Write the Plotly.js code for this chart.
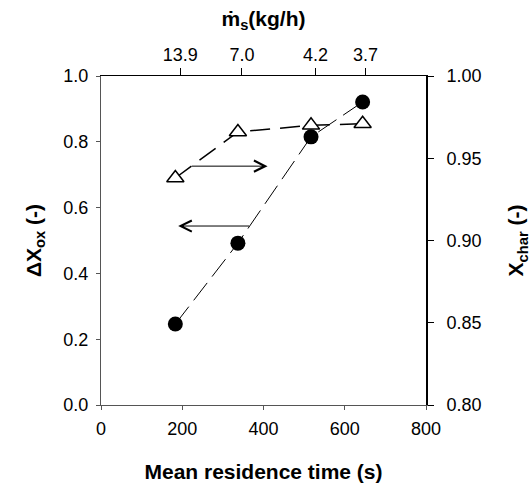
<!DOCTYPE html>
<html>
<head>
<meta charset="utf-8">
<script src="https://cdn.plot.ly/plotly-3.0.1.min.js"></script>
<style>html,body{margin:0;padding:0;background:#fff;}#chart{width:532px;height:489px;}</style>
</head>
<body>
<div id="chart"></div>
<script>
// Mean residence time (s)
const residenceTime = [183, 337, 517, 644];
// ΔX_ox (left axis)
const deltaXox = [0.246, 0.492, 0.815, 0.921];
// X_char (right axis)
const xChar = [0.938, 0.966, 0.970, 0.971];
// Top axis: solid mass flow (kg/h) at residence-time positions
const topTickPos = [195, 347, 528, 651];
const topTickText = ['13.9', '7.0', '4.2', '3.7'];
// Arrows: [tailX, headX, y(left axis units)]
const arrowRight = [220, 410, 0.726];
const arrowLeft = [368, 190, 0.544];

const font = 'Liberation Sans, Arial, sans-serif';

const traces = [
  {
    x: residenceTime, y: deltaXox, type: 'scatter', mode: 'lines+markers',
    line: {color: '#000', width: 1, dash: '22px,8px'},
    marker: {symbol: 'circle', size: 15, color: '#000'},
    xaxis: 'x', yaxis: 'y', showlegend: false
  },
  {
    x: residenceTime, y: xChar, type: 'scatter', mode: 'lines+markers',
    line: {color: '#000', width: 1.5, dash: '20px,10px'},
    marker: {symbol: 'triangle-up', size: 15, color: '#fff', line: {color: '#000', width: 1.5}},
    xaxis: 'x', yaxis: 'y2', showlegend: false
  },
  {
    x: [topTickPos[0]], y: [0.5], type: 'scatter', mode: 'markers',
    marker: {opacity: 0}, xaxis: 'x2', yaxis: 'y', showlegend: false, hoverinfo: 'skip'
  }
];

const layout = {
  width: 532, height: 489,
  margin: {l: 101, r: 106, t: 76, b: 84},
  paper_bgcolor: '#fff', plot_bgcolor: '#fff',
  font: {family: font, color: '#000', size: 18},
  xaxis: {
    range: [0, 800], tickvals: [0, 200, 400, 600, 800],
    showgrid: false, zeroline: false, showline: true, linecolor: '#555', linewidth: 1,
    ticks: 'outside', ticklen: 4, tickcolor: '#555', tickfont: {size: 18}, ticklabelstandoff: 3,
    title: {text: '<b>Mean residence time (s)</b>', font: {size: 21}, standoff: 26}
  },
  xaxis2: {
    overlaying: 'x', side: 'top', range: [0, 800],
    tickmode: 'array', tickvals: topTickPos, ticktext: topTickText,
    showgrid: false, zeroline: false, showline: true, linecolor: '#000', linewidth: 1,
    ticks: 'outside', ticklen: 7, tickcolor: '#000', tickfont: {size: 18},
    title: {text: '<b>ṁ<sub>s</sub>(kg/h)</b>', font: {size: 21}, standoff: 12}
  },
  yaxis: {
    range: [0, 1], tickvals: [0, 0.2, 0.4, 0.6, 0.8, 1.0], tickformat: '.1f',
    showgrid: false, zeroline: false, showline: true, linecolor: '#555', linewidth: 1,
    ticks: 'outside', ticklen: 4, tickcolor: '#555', tickfont: {size: 18}, ticklabelstandoff: 4,
    title: {text: '<b>ΔX<sub>ox</sub> (-)</b>', font: {size: 21}, standoff: 16}
  },
  yaxis2: {
    overlaying: 'y', side: 'right', range: [0.8, 1.0],
    tickvals: [0.80, 0.85, 0.90, 0.95, 1.00], tickformat: '.2f',
    showgrid: false, zeroline: false, showline: true, linecolor: '#000', linewidth: 2,
    ticks: 'outside', ticklen: 6, tickcolor: '#000', tickfont: {size: 18}, ticklabelstandoff: 9,
    title: {text: '<b>X<sub>char</sub> (-)</b>', font: {size: 21}, standoff: 28}
  },
  annotations: [
    {x: arrowRight[1], y: arrowRight[2], ax: arrowRight[0], ay: arrowRight[2],
     xref: 'x', yref: 'y', axref: 'x', ayref: 'y', text: '', showarrow: true,
     arrowhead: 5, arrowsize: 2.2, arrowwidth: 1, arrowcolor: '#000'},
    {x: arrowLeft[1], y: arrowLeft[2], ax: arrowLeft[0], ay: arrowLeft[2],
     xref: 'x', yref: 'y', axref: 'x', ayref: 'y', text: '', showarrow: true,
     arrowhead: 5, arrowsize: 2.2, arrowwidth: 1, arrowcolor: '#000'}
  ]
};

Plotly.newPlot('chart', traces, layout, {displayModeBar: false, staticPlot: true});
</script>
</body>
</html>
